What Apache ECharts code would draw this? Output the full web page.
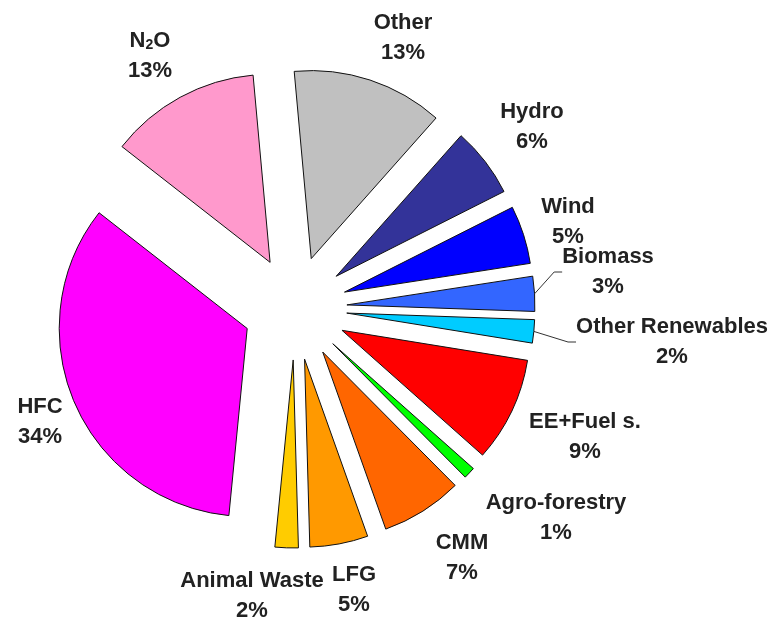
<!DOCTYPE html>
<html>
<head>
<meta charset="utf-8">
<script src="https://cdn.jsdelivr.net/npm/echarts@6/dist/echarts.min.js"></script>
<style>
html, body { margin: 0; padding: 0; background: #fff; }
#chart { width: 776px; height: 620px; }
</style>
</head>
<body>
<div id="chart"></div>
<script>
// slices, clockwise from the top
var names = ['Other', 'Hydro', 'Wind', 'Biomass', 'Other Renewables', 'EE+Fuel s.', 'Agro-forestry', 'CMM', 'LFG', 'Animal Waste', 'HFC', 'N2O'];
var shares = [13, 6, 5, 3, 2, 9, 1, 7, 5, 2, 34, 13];
var colors = ['#c0c0c0', '#333399', '#0000ff', '#3366ff', '#00ccff', '#ff0000', '#00ff00', '#ff6600', '#ff9900', '#ffcc00', '#ff00ff', '#ff99cc'];
var leaderNames = ['Biomass', 'Other Renewables'];

// where each label sits (centre of the two lines)
var labelPos = [[403, 38], [532, 127], [568, 222], [608, 272], [672, 342], [585, 437], [556, 518], [462, 558], [354, 590], [252, 596], [40, 422], [150, 56]];

var txtFont = 'Liberation Sans, Arial, sans-serif';

var sliceData = [], labelData = [];
for (var i = 0; i < names.length; i++) {
	sliceData.push({
		name: names[i],
		value: shares[i],
		selected: true,
		itemStyle: { color: colors[i] }
	});
	labelData.push({
		name: names[i],
		value: shares[i],
		labelLine: { show: leaderNames.indexOf(names[i]) >= 0 }
	});
}

var chart = echarts.init(document.getElementById('chart'), null, { renderer: 'canvas' });
chart.setOption({
	backgroundColor: '#ffffff',
	animation: false,
	series: [{
		// exploded slices
		type: 'pie',
		center: [295, 308],
		radius: 188,
		startAngle: 95.2,
		clockwise: true,
		selectedMode: 'multiple',
		selectedOffset: 52,
		emphasis: { disabled: true },
		itemStyle: { borderColor: '#111', borderWidth: 1 },
		select: { itemStyle: { borderColor: '#111', borderWidth: 1 } },
		label: { show: false },
		labelLine: { show: false },
		data: sliceData
	}, {
		// invisible ring the size of the exploded pie, carries the labels
		type: 'pie',
		silent: true,
		center: [295, 308],
		radius: 240,
		startAngle: 95.2,
		clockwise: true,
		itemStyle: { color: 'rgba(0,0,0,0)', borderWidth: 0 },
		emphasis: { disabled: true },
		avoidLabelOverlap: false,
		data: labelData,
		label: {
			show: true,
			position: 'outside',
			color: '#222',
			fontFamily: txtFont,
			fontWeight: 'bold',
			fontSize: 22,
			lineHeight: 30,
			align: 'center',
			formatter: function(p) {
				if (p.name == 'N2O') {
					return 'N{sub|2}O\n' + p.value + '%';
				}
				return p.name + '\n' + p.value + '%';
			},
			rich: {
				sub: { fontSize: 14, fontWeight: 'bold', color: '#222', fontFamily: txtFont, padding: [9, 0, 0, 0] }
			}
		},
		labelLine: {
			length: 4,
			length2: 8,
			lineStyle: { color: '#333', width: 1 }
		},
		labelLayout: function(params) {
			var pos = labelPos[params.dataIndex];
			return { x: pos[0], y: pos[1], align: 'center', verticalAlign: 'middle' };
		}
	}]
});
</script>
</body>
</html>
